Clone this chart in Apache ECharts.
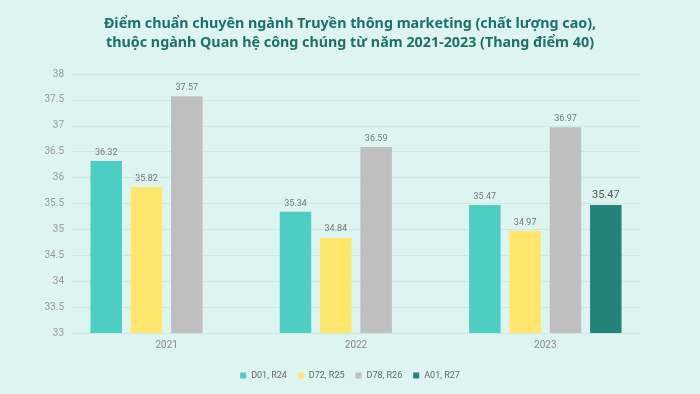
<!DOCTYPE html>
<html><head><meta charset="utf-8">
<script src="https://cdn.jsdelivr.net/npm/echarts@6/dist/echarts.min.js"></script>
<style>html,body{margin:0;padding:0;background:#ddf4f1;}#c{width:700px;height:394px;}</style>
</head><body><div id="c"></div>
<script>
const categories = ['2021', '2022', '2023'];
const seriesNames = ['D01, R24', 'D72, R25', 'D78, R26', 'A01, R27'];
const d01 = [36.32, 35.34, 35.47];
const d72 = [35.82, 34.84, 34.97];
const d78 = [37.57, 36.59, 36.97];
const a01 = [null, null, 35.47];
const colors = ['#4ecdc4', '#ffe66d', '#bfbfbf', '#23837b'];
const values = [d01, d72, d78, a01];

const chart = echarts.init(document.getElementById('c'));
chart.setOption({
  backgroundColor: '#ddf4f1',
  title: {
    text: 'Điểm chuẩn chuyên ngành Truyền thông marketing (chất lượng cao),\nthuộc ngành Quan hệ công chúng từ năm 2021-2023 (Thang điểm 40)',
    left: 'center', top: 9,
    textStyle: {fontFamily: 'Noto Sans', fontSize: 14.3, fontWeight: 'bold', color: '#1f7068', lineHeight: 19}
  },
  legend: {
    bottom: 9, left: 'center', itemWidth: 6, itemHeight: 6, itemGap: 11,
    icon: 'rect',
    textStyle: {fontFamily: 'Roboto', fontSize: 9, color: '#666'}
  },
  grid: {left: 72, right: 60, top: 74, bottom: 61},
  xAxis: {
    type: 'category', data: categories,
    axisLine: {lineStyle: {color: '#d0e6e3'}}, axisTick: {show: false},
    axisLabel: {fontFamily: 'Roboto', fontSize: 10, color: '#888', margin: 7}
  },
  yAxis: {
    type: 'value', min: 33, max: 38, interval: 0.5,
    axisLine: {show: false}, axisTick: {show: false},
    splitLine: {lineStyle: {color: '#cfe6e3', width: 1}},
    axisLabel: {fontFamily: 'Roboto', fontSize: 10, color: '#999', margin: 8}
  },
  series: values.map((v, i) => ({
    name: seriesNames[i], type: 'bar', data: v,
    barWidth: 31.5, barGap: '28%',
    itemStyle: {color: colors[i]},
    label: {
      show: true, position: 'top', distance: 4,
      fontFamily: 'Roboto', fontSize: i === 3 ? 11 : 9,
      color: i === 3 ? '#555' : '#777'
    }
  }))
});
</script></body></html>
